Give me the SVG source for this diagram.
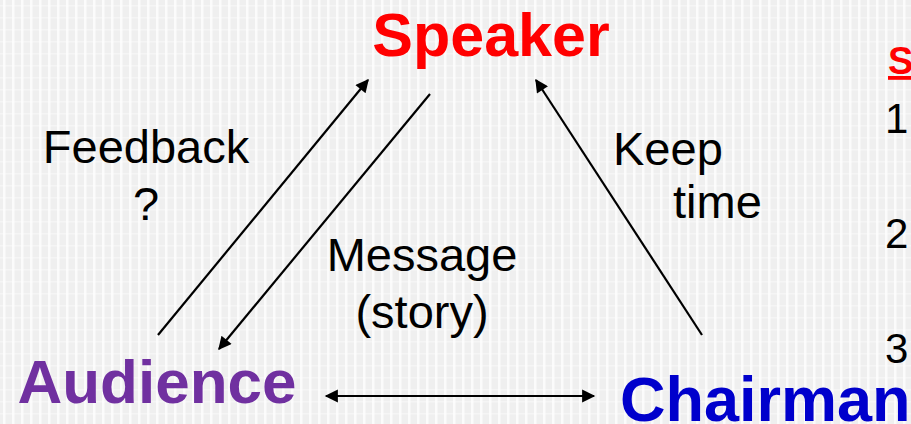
<svg xmlns="http://www.w3.org/2000/svg" width="911" height="424" viewBox="0 0 911 424">
  <style>
    .lbl { font-family: "Liberation Sans", Arial, sans-serif; font-size: 47px; fill: #000; }
    .title { font-family: "Liberation Sans", Arial, sans-serif; font-weight: bold; }
    .num { font-family: "Liberation Sans", Arial, sans-serif; font-size: 42px; fill: #000; }
    .conn { stroke: #000; stroke-width: 2.2; fill: none; }
  </style>
  <defs>
    <pattern id="bg" width="9" height="12" patternUnits="userSpaceOnUse">
      <rect width="9" height="12" fill="#efefef"/>
      <rect x="3" y="0" width="2.5" height="12" fill="#ffffff" opacity="0.75"/>
      <rect x="0" y="5" width="9" height="1.5" fill="#ffffff" opacity="0.35"/>
    </pattern>
    <marker id="ah" viewBox="0 0 10 10" refX="9" refY="5" markerWidth="7.5" markerHeight="6" markerUnits="strokeWidth" orient="auto-start-reverse">
      <path d="M0,0 L10,5 L0,10 z" fill="#000"/>
    </marker>
  </defs>
  <rect width="911" height="424" fill="url(#bg)"/>

  <g id="speaker">
    <text class="title" x="491" y="56" font-size="61" fill="#ff0000" text-anchor="middle">Speaker</text>
  </g>
  <g id="audience">
    <text class="title" x="157" y="403" font-size="62" fill="#7030a0" text-anchor="middle">Audience</text>
  </g>
  <g id="chairman">
    <text class="title" x="620" y="421" font-size="63" fill="#0000cc">Chairman</text>
  </g>
  <g id="side-list">
    <text class="title" x="888" y="74" font-size="38" fill="#ff0000" text-decoration="underline">S</text>
    <text class="num" x="885" y="133">1</text>
    <text class="num" x="885" y="248">2</text>
    <text class="num" x="885" y="363">3</text>
  </g>

  <g id="connectors">
    <line class="conn" x1="158" y1="335" x2="368" y2="80" marker-end="url(#ah)"/>
    <line class="conn" x1="430" y1="94" x2="219" y2="349" marker-end="url(#ah)"/>
    <line class="conn" x1="702" y1="335" x2="536" y2="80" marker-end="url(#ah)"/>
    <line class="conn" x1="326" y1="396" x2="594" y2="396" marker-start="url(#ah)" marker-end="url(#ah)"/>
  </g>

  <g id="labels">
    <text class="lbl" x="146" y="163" text-anchor="middle">Feedback</text>
    <text class="lbl" x="146" y="220" text-anchor="middle">?</text>
    <text class="lbl" x="613" y="165">Keep</text>
    <text class="lbl" x="673" y="218">time</text>
    <text class="lbl" x="422" y="271" text-anchor="middle">Message</text>
    <text class="lbl" x="422" y="328" text-anchor="middle">(story)</text>
  </g>
</svg>
